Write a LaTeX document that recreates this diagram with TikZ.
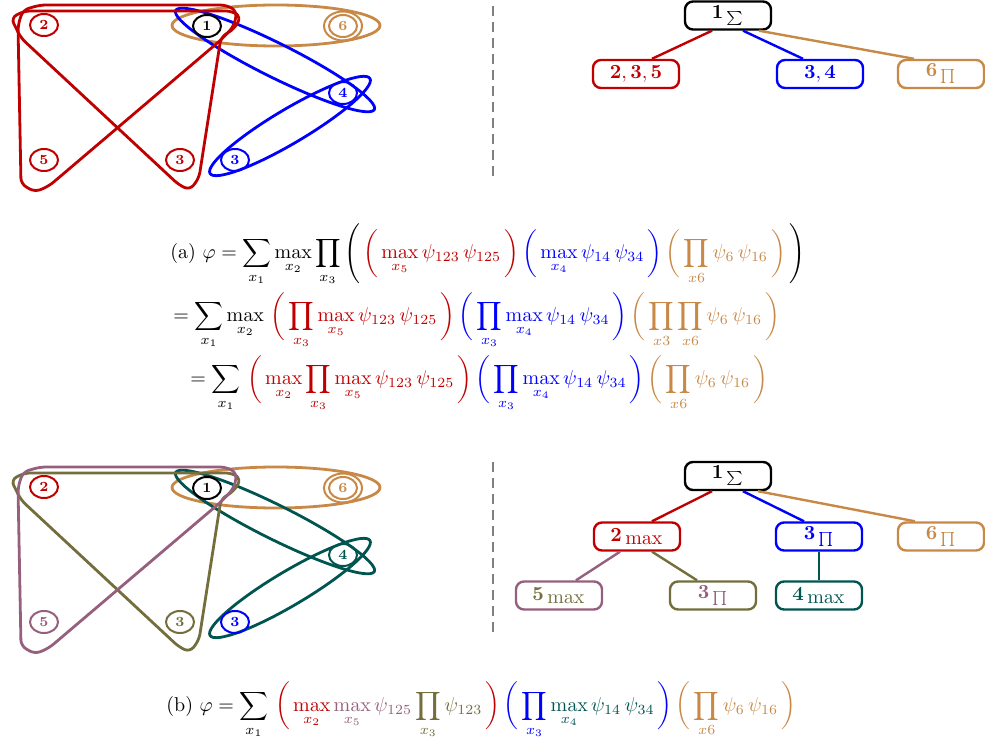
\documentclass[tikz,border=0pt]{standalone}
\usepackage{amsmath}
\usetikzlibrary{shapes.geometric,calc}
\definecolor{cR}{RGB}{192,0,0}
\definecolor{cB}{RGB}{0,0,255}
\definecolor{cO}{RGB}{200,136,70}
\definecolor{cM}{RGB}{150,95,125}
\definecolor{cL}{RGB}{115,110,60}
\definecolor{cT}{RGB}{0,85,80}
\definecolor{cG}{RGB}{128,128,128}
\begin{document}
\begin{tikzpicture}[x=0.5pt,y=-0.5pt,
  gn/.style={ellipse,draw,line width=1pt,minimum width=14pt,minimum height=11pt,inner sep=0pt,font=\scriptsize\bfseries},
  gout/.style={ellipse,draw,line width=1pt,minimum width=19pt,minimum height=14.5pt,inner sep=0pt},
  he/.style={line width=1.4pt,rounded corners=3pt},
  hell/.style={line width=1.4pt},
  tb/.style={draw,rounded corners=4pt,line width=1.2pt,minimum width=43pt,minimum height=14pt,inner sep=0pt},
  te/.style={line width=1.2pt},
  sep/.style={cG,line width=0.6pt,dash pattern=on 5pt off 3pt},
  eq/.style={anchor=base west,inner sep=0pt}]
\useasboundingbox (0,0) rectangle (985,748);

% ---------- top hypergraph ----------
\begin{scope}
\draw[hell,cO] (276,25.5) ellipse [x radius=104,y radius=20.5];
\draw[hell,cB,rotate around={-26.5:(275,60)}] (275,60) ellipse [x radius=111,y radius=17];
\draw[hell,cB,rotate around={30.7:(290,126)}] (290,126) ellipse [x radius=93,y radius=17];
\draw[he,cR] (24,11) -- (232,11) -- (241,17) -- (234,29) -- (221,37) -- (199,178) -- (190,190) -- (179,185) -- (21,38) -- (11,18) -- cycle;
\draw[he,cR] (40,5) -- (226,5) -- (237,11) -- (234,26) -- (222,39) -- (49,186) -- (35,192) -- (21,184) -- (18,25) -- (23,10) -- cycle;
\node[gn,cR] (t2) at (44,25) {2};
\node[gn,black] (t1) at (207,26) {1};
\node[gn,cO] (t6) at (343,26) {6};
\node[gout,cO] (t6o) at (t6) {};
\node[gn,cB] (t4) at (343,93) {4};
\node[gn,cR] (t5) at (44,160) {5};
\node[gn,cR] (t3) at (180,160) {3};
\node[gn,cB] (t7) at (235,160) {3};
\end{scope}

% ---------- bottom hypergraph ----------
\begin{scope}[shift={(0,462)}]
\draw[hell,cO] (276,25.5) ellipse [x radius=104,y radius=20.5];
\draw[hell,cT,rotate around={-26.5:(275,60)}] (275,60) ellipse [x radius=111,y radius=17];
\draw[hell,cT,rotate around={30.7:(290,126)}] (290,126) ellipse [x radius=93,y radius=17];
\draw[he,cL] (24,11) -- (232,11) -- (241,17) -- (234,29) -- (221,37) -- (199,178) -- (190,190) -- (179,185) -- (21,38) -- (11,18) -- cycle;
\draw[he,cM] (40,5) -- (226,5) -- (237,11) -- (234,26) -- (222,39) -- (49,186) -- (35,192) -- (21,184) -- (18,25) -- (23,10) -- cycle;
\node[gn,cR] (b2) at (44,25) {2};
\node[gn,black] (b1) at (207,26) {1};
\node[gn,cO] (b6) at (343,26) {6};
\node[gout,cO] (b6o) at (b6) {};
\node[gn,cT] (b4) at (343,93) {4};
\node[gn,cM] (b5) at (44,160) {5};
\node[gn,cL] (b3) at (180,160) {3};
\node[gn,cB] (b7) at (235,160) {3};
\end{scope}

% ---------- separators ----------
\draw[sep] (493,6) -- (493,176);
\draw[sep] (493,462) -- (493,636);

% ---------- top tree ----------
\node[tb,black] (tp) at (728,15.5) {$\mathbf{1}_{\,\sum}$};
\node[tb,cR] (tc1) at (636,74) {$\mathbf{2,3,5}$};
\node[tb,cB] (tc2) at (820,74) {$\mathbf{3,4}$};
\node[tb,cO] (tc3) at (941,74) {$\mathbf{6}_{\,\prod}$};
\draw[te,cR] ([xshift=-8pt]tp.south) -- ([xshift=8pt]tc1.north);
\draw[te,cB] ([xshift=7.5pt]tp.south) -- ([xshift=-8.5pt]tc2.north);
\draw[te,cO] ([xshift=15.5pt]tp.south) -- ([xshift=-13.5pt]tc3.north);

% ---------- bottom tree ----------
\node[tb,black] (bp) at (728,476) {$\mathbf{1}_{\,\sum}$};
\node[tb,cR] (bc1) at (637,536.5) {$\mathbf{2}_{\textstyle\,\max}$};
\node[tb,cB] (bc2) at (819,536.5) {$\mathbf{3}_{\,\prod}$};
\node[tb,cO] (bc3) at (941,536.5) {$\mathbf{6}_{\,\prod}$};
\node[tb,draw=cM,text=cL] (bc4) at (559,595.5) {$\mathbf{5}_{\textstyle\,\max}$};
\node[tb,draw=cL,text=cM] (bc5) at (713,595.5) {$\mathbf{3}_{\,\prod}$};
\node[tb,cT] (bc6) at (819,595.5) {$\mathbf{4}_{\textstyle\,\max}$};
\draw[te,cR] ([xshift=-8pt]bp.south) -- ([xshift=7.5pt]bc1.north);
\draw[te,cB] ([xshift=7.5pt]bp.south) -- ([xshift=-7.5pt]bc2.north);
\draw[te,cO] ([xshift=15pt]bp.south) -- ([xshift=-13pt]bc3.north);
\draw[te,cM] ([xshift=-8.5pt]bc1.south) -- ([xshift=8.5pt]bc4.north);
\draw[te,cL] ([xshift=7.5pt]bc1.south) -- ([xshift=-8pt]bc5.north);
\draw[te,cT] (bc2.south) -- (bc6.north);

% ---------- equations ----------
\node[eq] (ea) at (170,259) {(a) $\displaystyle \varphi = \sum_{x_1}\max_{x_2}\prod_{x_3}\Bigg(\,{\color{cR}\bigg(\max_{x_5}\psi_{123}\,\psi_{125}\,\bigg)}\,{\color{cB}\bigg(\max_{x_4}\psi_{14}\,\psi_{34}\,\bigg)}\,{\color{cO}\bigg(\prod_{x6}\psi_6\,\psi_{16}\,\bigg)}\,\Bigg)$};
\node[eq] (eb) at (173,322) {$\displaystyle = \sum_{x_1}\max_{x_2}\,{\color{cR}\bigg(\prod_{x_3}\max_{x_5}\psi_{123}\,\psi_{125}\,\bigg)}\,{\color{cB}\bigg(\prod_{x_3}\max_{x_4}\psi_{14}\,\psi_{34}\,\bigg)}\,{\color{cO}\bigg(\prod_{x3}\prod_{x6}\psi_6\,\psi_{16}\,\bigg)}$};
\node[eq] (ec) at (190,385) {$\displaystyle = \sum_{x_1}\,{\color{cR}\bigg(\max_{x_2}\prod_{x_3}\max_{x_5}\psi_{123}\,\psi_{125}\,\bigg)}\,{\color{cB}\bigg(\prod_{x_3}\max_{x_4}\psi_{14}\,\psi_{34}\,\bigg)}\,{\color{cO}\bigg(\prod_{x6}\psi_6\,\psi_{16}\,\bigg)}$};
\node[eq] (ed) at (166,711) {(b) $\displaystyle \varphi = \sum_{x_1}\,{\color{cR}\bigg(\max_{x_2}}\,{\color{cM}\max_{x_5}\psi_{125}}\,{\color{cL}\prod_{x_3}\psi_{123}}\,{\color{cR}\bigg)}\,{\color{cB}\bigg(\prod_{x_3}}\,{\color{cT}\max_{x_4}\psi_{14}\,\psi_{34}}\,{\color{cB}\bigg)}\,{\color{cO}\bigg(\prod_{x6}\psi_6\,\psi_{16}\,\bigg)}$};
\end{tikzpicture}
\end{document}
